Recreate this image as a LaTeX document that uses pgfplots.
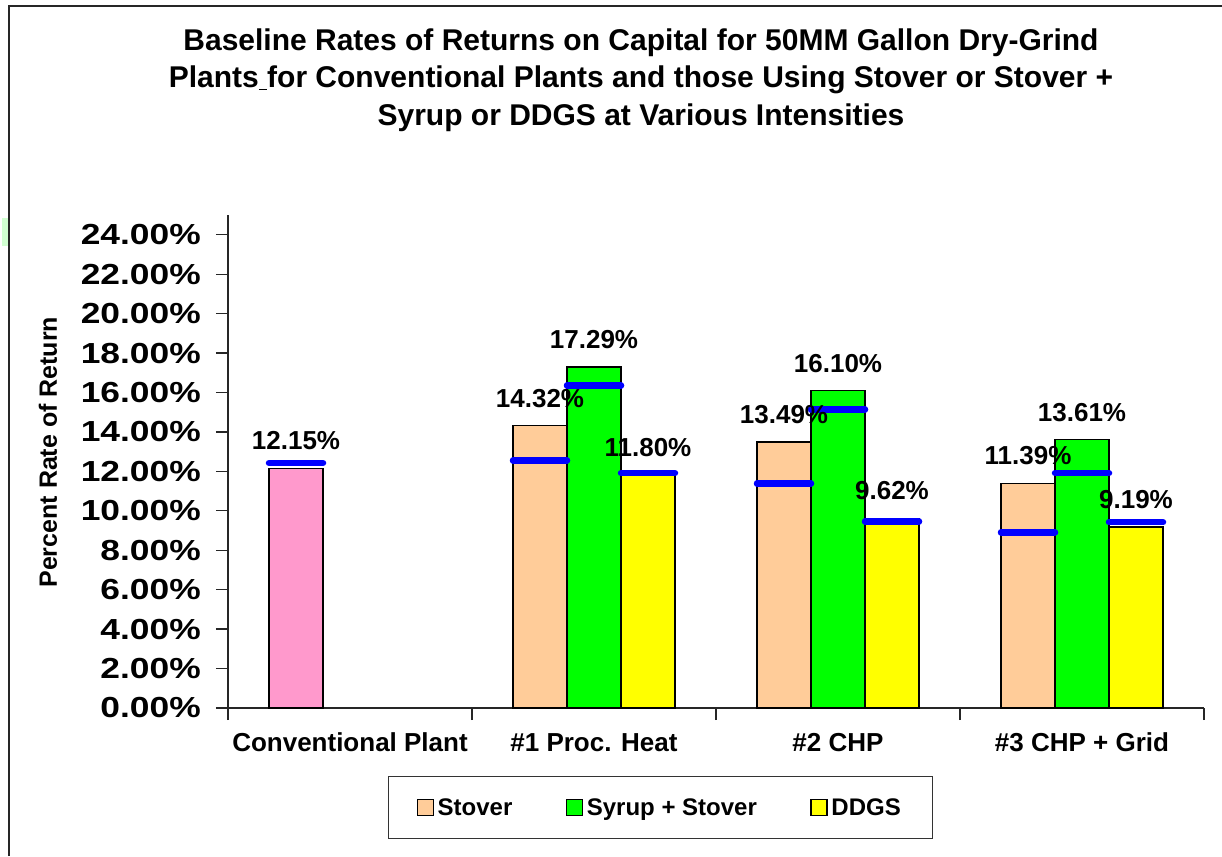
\documentclass[border=0pt]{standalone}
\usepackage{pgfplots}
\pgfplotsset{compat=1.18}
\usepackage{pgfplotstable}
\usepackage{graphicx}
\usepackage{fontspec}
\setmainfont{Liberation Sans}

\definecolor{stovercol}{HTML}{FFCC99}
\definecolor{syrupcol}{HTML}{00FF00}
\definecolor{ddgscol}{HTML}{FFFF00}
\definecolor{convcol}{HTML}{FF99CC}
\definecolor{linecol}{HTML}{0000FF}

% bar centres: category c at c-0.2213 (Stover), c (Syrup + Stover), c+0.2213 (DDGS)
\pgfplotstableread{
x y
-0.2213 12.15
}\convdata
\pgfplotstableread{
x y
0.7787 14.32
1.7787 13.49
2.7787 11.39
}\stoverdata
\pgfplotstableread{
x y
1 17.29
2 16.10
3 13.61
}\syrupdata
\pgfplotstableread{
x y
1.2213 11.80
2.2213 9.62
3.2213 9.19
}\ddgsdata
% blue marker lines
\pgfplotstableread{
x y
-0.2213 12.43
0.7787 12.55
1 16.35
1.2213 11.91
1.7787 11.38
2 15.14
2.2213 9.45
2.7787 8.91
3 11.91
3.2213 9.42
}\linedata

\pgfplotsset{
  mybar/.style={ybar, bar width=0.2213, bar shift=0pt, draw=black, line width=1.5pt,
    legend image code/.code={\draw[##1, draw=black, line width=1.5pt] (0pt,-8pt) rectangle (16pt,8pt);}},
  mylabels/.style={forget plot, draw=none, mark=none,
    nodes near coords={\pgfmathprintnumber[fixed,fixed zerofill,precision=2]{\pgfplotspointmeta}\%},
    point meta=y,
    every node near coord/.append style={anchor=south, inner sep=0pt, yshift=18pt,
      font=\fontsize{26}{26}\selectfont\bfseries, text=black}},
}

\begin{document}
\begin{tikzpicture}
\useasboundingbox (-228pt,-148pt) rectangle (994pt,708pt);
\fill[green!18] (-226pt,490pt) rectangle (-220pt,462pt);
\draw[line width=2pt, black!85] (-218.5pt,-148pt) -- (-218.5pt,701.5pt) -- (994pt,701.5pt);
\node[align=center, font=\fontsize{30}{37.5}\selectfont\bfseries] at (413pt,628pt)
  {Baseline Rates of Returns on Capital for 50MM Gallon Dry-Grind\\
   Plants\underline{\ }for Conventional Plants and those Using Stover or Stover +\\
   Syrup or DDGS at Various Intensities};
\begin{axis}[
  at={(0pt,0pt)}, anchor=south west,
  scale only axis, width=976pt, height=493pt,
  xmin=-0.5, xmax=3.5, ymin=0, ymax=25,
  axis x line*=bottom, axis y line*=left,
  axis line style={line width=1.3pt, black!85},
  tick align=outside,
  major tick length=12pt,
  tick style={line width=1.3pt, black!85},
  ytick={0,2,...,24},
  yticklabel={\scalebox{1.22}[1]{\pgfmathprintnumber[fixed,fixed zerofill,precision=2]{\tick}\%}},
  /pgf/number format/assume math mode=true,
  yticklabel style={font=\fontsize{29}{29}\selectfont\bfseries, anchor=east, inner sep=0pt, xshift=-15pt},
  ylabel={Percent Rate of Return},
  ylabel style={font=\fontsize{25}{25}\selectfont\bfseries, at={(axis description cs:-0.1844,0.519)}, anchor=center},
  xtick={-0.5,0.5,1.5,2.5,3.5},
  xticklabels={},
  extra x ticks={0,1,2,3},
  extra x tick labels={Conventional Plant,\#1 Proc. Heat,\#2 CHP,\#3 CHP + Grid},
  extra x tick style={major tick length=0pt, tick style={draw=none},
    xticklabel style={font=\fontsize{26}{26}\selectfont\bfseries, anchor=base, yshift=-43pt}},
  legend columns=3,
  legend style={at={(0.4431,-0.2018)}, anchor=center, draw=black!80, line width=1.2pt,
    inner xsep=28pt, inner ysep=18pt,
    font=\fontsize{24}{24}\selectfont\bfseries,
    nodes={inner sep=3.5pt},
    /tikz/every even column/.append style={column sep=50pt}},
  clip=false,
]
\addplot[mybar, fill=stovercol] table[x=x,y=y]{\stoverdata};
\addlegendentry{Stover}
\addplot[mybar, fill=syrupcol] table[x=x,y=y]{\syrupdata};
\addlegendentry{Syrup + Stover}
\addplot[mybar, fill=ddgscol] table[x=x,y=y]{\ddgsdata};
\addlegendentry{DDGS}
\addplot[mybar, fill=convcol, forget plot] table[x=x,y=y]{\convdata};
\addplot[forget plot, only marks, mark=-, mark size=27pt, color=linecol, line width=6.5pt,
  mark options={line width=6.5pt, line cap=round}] table[x=x,y=y]{\linedata};
\addplot[mylabels] table[x=x,y=y]{\convdata};
\addplot[mylabels] table[x=x,y=y]{\stoverdata};
\addplot[mylabels] table[x=x,y=y]{\syrupdata};
\addplot[mylabels] table[x=x,y=y]{\ddgsdata};
\end{axis}
\end{tikzpicture}
\end{document}
